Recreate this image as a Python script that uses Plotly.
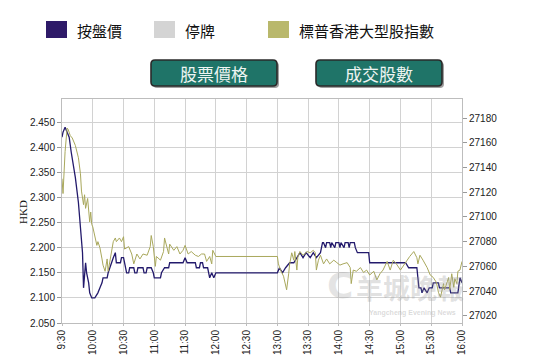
import plotly.graph_objects as go
import pandas as pd

# ---------------- data ----------------
PRICE_TIME = ["9:30","9:31","9:33","9:35","9:37","9:39","9:43","9:46","9:48","9:50","9:51","9:53","9:54","9:56","9:57","9:59",
              "10:02","10:05","10:07","10:09","10:10","10:14","10:15","10:18","10:20","10:22","10:23","10:27","10:28","10:30",
              "10:31","10:33","10:35","10:36","10:40","10:41","10:43","10:44","10:49","10:50","10:52","10:53","10:57","10:59",
              "11:00","11:06","11:07","11:10","11:14","11:15","11:28","11:30","11:32","11:40","11:41","11:44","11:45","11:47",
              "11:48","11:52","11:53","11:54","11:56","11:58","12:00","13:00","13:02","13:05","13:08","13:12","13:16","13:19",
              "13:22","13:25","13:28","13:32","13:35","13:38","13:42","13:44","13:45","13:47","13:48","13:51","13:52","13:53",
              "13:56","13:57","14:00","14:01","14:02","14:05","14:06","14:09","14:10","14:11","14:15","14:16","14:18","14:29",
              "14:30","15:03","15:05","15:08","15:16","15:17","15:18","15:20","15:21","15:23","15:26","15:28","15:31","15:32",
              "15:37","15:38","15:48","15:49","15:56","15:58","16:00"]
PRICE_HKD = [2.42,2.43,2.44,2.43,2.42,2.39,2.34,2.29,2.24,2.19,2.12,2.17,2.15,2.13,2.11,2.10,
             2.10,2.11,2.12,2.13,2.14,2.14,2.15,2.17,2.18,2.19,2.17,2.17,2.18,2.18,
             2.17,2.15,2.15,2.16,2.16,2.15,2.15,2.16,2.16,2.15,2.15,2.16,2.16,2.15,
             2.14,2.14,2.15,2.16,2.16,2.17,2.17,2.18,2.17,2.17,2.16,2.16,2.17,2.17,
             2.16,2.16,2.15,2.14,2.15,2.14,2.15,2.15,2.16,2.15,2.16,2.17,2.17,2.18,
             2.19,2.18,2.19,2.18,2.19,2.18,2.19,2.21,2.21,2.20,2.21,2.21,2.20,2.21,
             2.20,2.21,2.21,2.20,2.21,2.20,2.21,2.21,2.20,2.21,2.21,2.20,2.19,2.19,
             2.17,2.17,2.17,2.16,2.16,2.14,2.12,2.12,2.11,2.12,2.11,2.12,2.12,2.13,
             2.13,2.12,2.12,2.11,2.11,2.14,2.13]

INDEX_TIME = ["9:30","9:31","9:33","9:35","9:36","9:38","9:40","9:43","9:46","9:48","9:49","9:51","9:52","9:53","9:55","9:57",
              "9:58","9:59","10:00","10:02","10:04","10:05","10:07","10:09","10:10","10:12","10:14","10:15","10:17","10:18",
              "10:20","10:22","10:23","10:26","10:28","10:30","10:31","10:35","10:38","10:40","10:43","10:46","10:49","10:53",
              "10:56","10:57","10:59","11:01","11:02","11:06","11:09","11:10","11:14","11:15","11:19","11:22","11:25","11:28",
              "11:30","11:33","11:36","11:40","11:43","11:46","11:49","11:51","11:54","11:56","11:57","12:00","13:00","13:01",
              "13:03","13:06","13:07","13:09","13:11","13:12","13:14","13:16","13:17","13:19","13:20","13:22","13:25","13:29",
              "13:32","13:35","13:37","13:38","13:40","13:42","13:45","13:48","13:51","13:55","13:58","14:01","14:04","14:08",
              "14:11","14:12","14:14","14:17","14:21","14:24","14:27","14:30","14:34","14:37","14:40","14:43","14:47","14:50",
              "14:53","14:56","15:00","15:03","15:06","15:09","15:13","15:16","15:17","15:19","15:22","15:26","15:29","15:32",
              "15:35","15:37","15:39","15:42","15:43","15:45","15:47","15:48","15:50","15:52","15:53","15:55","15:56","15:58",
              "15:59","16:00"]
INDEX_VALUE = [27131,27119,27153,27172,27171,27166,27164,27158,27148,27135,27121,27110,27118,27107,27115,27096,
               27104,27094,27092,27085,27077,27080,27075,27066,27061,27056,27066,27056,27066,27073,
               27080,27083,27080,27083,27080,27084,27074,27076,27070,27062,27070,27066,27070,27069,
               27076,27085,27076,27060,27068,27065,27072,27083,27070,27078,27073,27076,27070,27073,
               27077,27070,27072,27069,27068,27070,27070,27064,27068,27062,27073,27068,27068,27062,
               27057,27052,27049,27041,27054,27062,27071,27065,27072,27057,27068,27072,27069,27072,
               27071,27073,27071,27057,27065,27069,27062,27066,27062,27065,27063,27061,27062,27063,
               27059,27046,27057,27056,27059,27055,27057,27053,27056,27049,27054,27057,27064,27057,
               27065,27062,27057,27061,27064,27068,27072,27067,27062,27069,27065,27059,27053,27051,
               27047,27039,27035,27046,27041,27047,27051,27041,27054,27043,27050,27046,27056,27057,
               27061,27064]

TICK_LABELS = ["9:30","10:00","10:30","11:00","11:30","12:00","12:30","13:00","13:30","14:00","14:30","15:00","15:30","16:00"]
PRICE_TICKS = [2.05, 2.10, 2.15, 2.20, 2.25, 2.30, 2.35, 2.40, 2.45]
INDEX_TICKS = [27020, 27040, 27060, 27080, 27100, 27120, 27140, 27160, 27180]

LEGEND_LABELS = ["按盤價", "停牌", "標普香港大型股指數"]
LEGEND_COLORS = ["#2e1a68", "#d4d4d4", "#b9b86c"]
BUTTON_LABELS = ["股票價格", "成交股數"]

DAY = "2024-01-02 "
def to_dt(ts):
    return pd.to_datetime([DAY + t for t in ts])

# ---------------- layout geometry (screen pixels of the 544x357 view) ----------------
VIEW_W, VIEW_H = 544, 357
OFF = 8                      # default page margin before the figure
W, H = VIEW_W - OFF, VIEW_H - OFF
L, R, T, B = 62, 462, 99, 323  # plot area in screen pixels
PW, PH = R - L, B - T

def px(x):
    return (x - L) / PW

def py(y):
    return (B - y) / PH

fig = go.Figure()
fig.add_trace(go.Scatter(x=to_dt(INDEX_TIME), y=INDEX_VALUE, name=LEGEND_LABELS[2], mode="lines",
                         line=dict(color="#a9a85c", width=1), yaxis="y2", showlegend=False))
fig.add_trace(go.Scatter(x=to_dt(PRICE_TIME), y=PRICE_HKD, name=LEGEND_LABELS[0], mode="lines",
                         line=dict(color="#231a6c", width=1.3), showlegend=False))

shapes = []
annotations = []

# legend row
leg_boxes = [(46, 67), (154, 175), (268, 289)]
leg_text_x = [75, 183, 297]
for (x0, x1), col, lab, tx in zip(leg_boxes, LEGEND_COLORS, LEGEND_LABELS, leg_text_x):
    shapes.append(dict(type="rect", xref="paper", yref="paper", x0=px(x0), x1=px(x1), y0=py(38), y1=py(21),
                       fillcolor=col, line=dict(width=0)))
    annotations.append(dict(xref="paper", yref="paper", x=px(tx), y=py(30), text=lab, showarrow=False,
                            xanchor="left", yanchor="middle",
                            font=dict(family="Noto Sans CJK TC", size=15, color="#111111")))

# buttons
def rounded(x0, y0, x1, y1, r=4):
    rx, ry = r / PW, r / PH
    X0, X1 = px(x0), px(x1)
    Y0, Y1 = py(y1), py(y0)  # bottom, top in paper
    return (f"M {X0+rx},{Y0} L {X1-rx},{Y0} Q {X1},{Y0} {X1},{Y0+ry} L {X1},{Y1-ry} Q {X1},{Y1} {X1-rx},{Y1} "
            f"L {X0+rx},{Y1} Q {X0},{Y1} {X0},{Y1-ry} L {X0},{Y0+ry} Q {X0},{Y0} {X0+rx},{Y0} Z")

buttons = [(151, 60, 277, 86), (316, 60, 442, 86)]
for (x0, y0, x1, y1), lab in zip(buttons, BUTTON_LABELS):
    shapes.append(dict(type="path", xref="paper", yref="paper", path=rounded(x0 + 2, y0 + 2, x1 + 2, y1 + 2),
                       fillcolor="#a0a0a0", line=dict(width=0)))
    shapes.append(dict(type="path", xref="paper", yref="paper", path=rounded(x0, y0, x1, y1),
                       fillcolor="#1f7468", line=dict(color="#2a2a2a", width=1.6)))
    annotations.append(dict(xref="paper", yref="paper", x=px((x0 + x1) / 2), y=py((y0 + y1) / 2 + 0.5),
                            text=lab, showarrow=False, xanchor="center", yanchor="middle",
                            font=dict(family="Noto Sans CJK TC", size=17, color="#eef4f2")))

# y-axis title
annotations.append(dict(xref="paper", yref="paper", x=px(23), y=py(212), text="HKD", textangle=-90,
                        showarrow=False, xanchor="center", yanchor="middle",
                        font=dict(family="Liberation Serif", size=11, color="#111111")))

# watermark (kept inside the plot so it does not collide with axis labels)
annotations.append(dict(xref="paper", yref="paper", x=px(410), y=py(287), text="<b>羊城晚報</b>",
                        showarrow=False, xanchor="center", yanchor="middle",
                        font=dict(family="Noto Sans CJK TC", size=27, color="rgba(150,150,150,0.30)")))
annotations.append(dict(xref="paper", yref="paper", x=px(340), y=py(285), text="<b>C</b>",
                        showarrow=False, xanchor="center", yanchor="middle",
                        font=dict(family="DejaVu Sans", size=36, color="rgba(150,150,150,0.25)")))
annotations.append(dict(xref="paper", yref="paper", x=px(412), y=py(313), text="<b>Yangcheng Evening News</b>",
                        showarrow=False, xanchor="center", yanchor="middle",
                        font=dict(family="Liberation Sans", size=7, color="rgba(150,150,150,0.35)")))

fig.update_layout(
    width=W, height=H,
    margin=dict(l=L - OFF, r=VIEW_W - R, t=T - OFF, b=VIEW_H - B, autoexpand=False),
    paper_bgcolor="white", plot_bgcolor="white",
    shapes=shapes, annotations=annotations,
    xaxis=dict(type="date", range=[pd.Timestamp(DAY + "9:30"), pd.Timestamp(DAY + "16:00")],
               tickvals=to_dt(TICK_LABELS), ticktext=TICK_LABELS, tickangle=-90, automargin=False,
               showgrid=True, gridcolor="#d2d2d2", gridwidth=1,
               showline=True, linecolor="#bdbdbd", mirror=True,
               ticks="outside", ticklen=2, tickcolor="#bdbdbd",
               tickfont=dict(family="Liberation Sans", size=10, color="#222222"), zeroline=False),
    yaxis=dict(range=[2.05, 2.496], tickvals=PRICE_TICKS, tickformat=".3f", automargin=False,
               showgrid=True, gridcolor="#d2d2d2", gridwidth=1,
               showline=True, linecolor="#bdbdbd", mirror=True,
               ticks="outside", ticklen=4, tickcolor="#999999",
               tickfont=dict(family="Liberation Sans", size=10, color="#222222"), zeroline=False),
    yaxis2=dict(range=[27014.1, 27195.6], tickvals=INDEX_TICKS, tickformat="d", overlaying="y", side="right",
                automargin=False, showgrid=False, ticks="outside", ticklen=4, tickcolor="#999999",
                tickfont=dict(family="Liberation Sans", size=10, color="#222222"), zeroline=False),
    showlegend=False,
)

fig.write_html("out.html")
